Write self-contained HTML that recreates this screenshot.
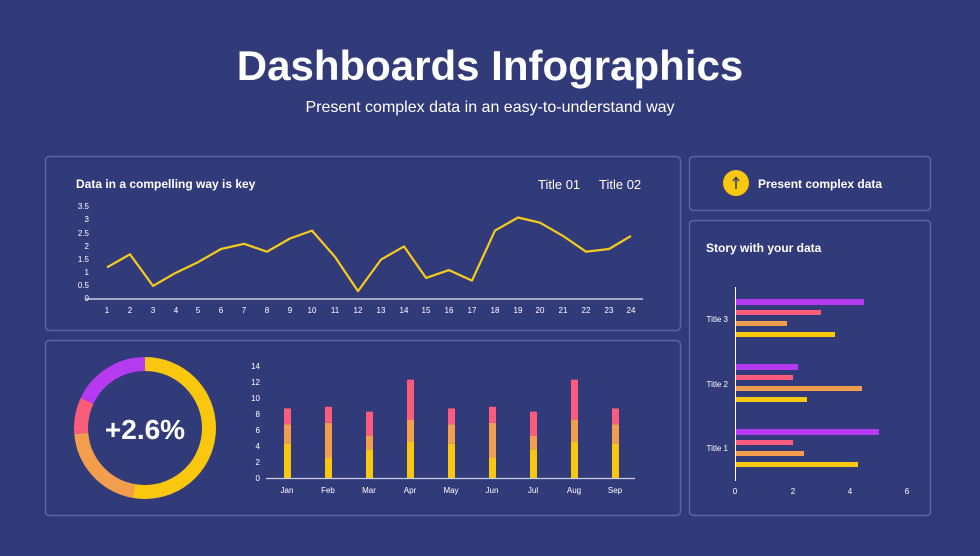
<!DOCTYPE html>
<html><head><meta charset="utf-8"><style>
body{margin:0;width:980px;height:551px;background:#323b79;overflow:hidden;font-family:"Liberation Sans",sans-serif;}
</style></head><body>
<svg width="980" height="551" xmlns="http://www.w3.org/2000/svg" font-family="Liberation Sans, sans-serif">
<rect width="980" height="551" fill="#323b79"/>
<text x="490" y="80" text-anchor="middle" font-size="42" font-weight="bold" fill="#fff">Dashboards Infographics</text>
<text x="490" y="112" text-anchor="middle" font-size="16" fill="#fff">Present complex data in an easy-to-understand way</text>
<g fill="none" stroke="#5b64a3" stroke-width="1.5">
<rect x="45.5" y="156.5" width="635" height="174" rx="4"/>
<rect x="45.5" y="340.5" width="635" height="175" rx="4"/>
<rect x="689.5" y="156.5" width="241" height="54" rx="4"/>
<rect x="689.5" y="220.5" width="241" height="295" rx="4"/>
</g>
<text x="76" y="188" font-size="12" font-weight="bold" fill="#fff">Data in a compelling way is key</text>
<text x="538" y="189" font-size="13" fill="#fff">Title 01</text>
<text x="599" y="189" font-size="13" fill="#fff">Title 02</text>
<g font-size="8" fill="#fff" text-anchor="end">
<text x="89" y="301">0</text><text x="89" y="288">0.5</text><text x="89" y="275">1</text><text x="89" y="262">1.5</text><text x="89" y="249">2</text><text x="89" y="236">2.5</text><text x="89" y="222">3</text><text x="89" y="209">3.5</text>
</g>
<line x1="86" y1="299" x2="643" y2="299" stroke="#c9cde6" stroke-width="1.5"/>
<g font-size="8" fill="#fff" text-anchor="middle">
<text x="107" y="313">1</text><text x="130" y="313">2</text><text x="153" y="313">3</text><text x="176" y="313">4</text><text x="198" y="313">5</text><text x="221" y="313">6</text><text x="244" y="313">7</text><text x="267" y="313">8</text><text x="290" y="313">9</text><text x="312" y="313">10</text><text x="335" y="313">11</text><text x="358" y="313">12</text><text x="381" y="313">13</text><text x="404" y="313">14</text><text x="426" y="313">15</text><text x="449" y="313">16</text><text x="472" y="313">17</text><text x="495" y="313">18</text><text x="518" y="313">19</text><text x="540" y="313">20</text><text x="563" y="313">21</text><text x="586" y="313">22</text><text x="609" y="313">23</text><text x="631" y="313">24</text>
</g>
<polyline fill="none" stroke="#f7cb1a" stroke-width="2.2" stroke-linejoin="round" points="107,267.4 130,254.3 153,285.9 176,272.7 198,262.2 221,249.0 244,243.8 267,251.7 290,238.5 312,230.6 335,256.9 358,291.1 381,259.6 404,246.4 426,277.9 449,270.1 472,280.6 495,230.6 518,217.5 540,222.7 563,235.9 586,251.7 609,249.0 631,235.9"/>
<g transform="rotate(-90 145 428)" fill="none" stroke-width="14">
<circle cx="145" cy="428" r="64" stroke="#f9c80e" stroke-dasharray="212.2 402.1"/>
<circle cx="145" cy="428" r="64" stroke="#f29e4c" stroke-dasharray="0 212.2 83.8 402.1"/>
<circle cx="145" cy="428" r="64" stroke="#fb5c7c" stroke-dasharray="0 296 33.5 402.1"/>
<circle cx="145" cy="428" r="64" stroke="#b53af0" stroke-dasharray="0 329.5 72.6 402.1"/>
</g>
<text x="145" y="439" text-anchor="middle" font-size="28" font-weight="bold" fill="#fff">+2.6%</text>
<g font-size="8" fill="#fff" text-anchor="end">
<text x="260" y="481">0</text><text x="260" y="465">2</text><text x="260" y="449">4</text><text x="260" y="433">6</text><text x="260" y="417">8</text><text x="260" y="401">10</text><text x="260" y="385">12</text><text x="260" y="369">14</text>
</g>
<line x1="266" y1="478.5" x2="635" y2="478.5" stroke="#c9cde6" stroke-width="1.2"/>
<g>
<g id="b">
<rect x="284" y="443.6" width="7" height="34.4" fill="#f9c80e"/><rect x="284" y="424.4" width="7" height="19.2" fill="#f29e4c"/><rect x="284" y="408.4" width="7" height="16" fill="#fb5c7c"/>
<rect x="325" y="458" width="7" height="20" fill="#f9c80e"/><rect x="325" y="422.8" width="7" height="35.2" fill="#f29e4c"/><rect x="325" y="406.8" width="7" height="16" fill="#fb5c7c"/>
<rect x="366" y="449.2" width="7" height="28.8" fill="#f9c80e"/><rect x="366" y="435.6" width="7" height="13.6" fill="#f29e4c"/><rect x="366" y="411.6" width="7" height="24" fill="#fb5c7c"/>
<rect x="407" y="442" width="7" height="36" fill="#f9c80e"/><rect x="407" y="419.6" width="7" height="22.4" fill="#f29e4c"/><rect x="407" y="379.6" width="7" height="40" fill="#fb5c7c"/>
</g>
<use href="#b" transform="translate(164 0)"/>
<rect x="612" y="443.6" width="7" height="34.4" fill="#f9c80e"/><rect x="612" y="424.4" width="7" height="19.2" fill="#f29e4c"/><rect x="612" y="408.4" width="7" height="16" fill="#fb5c7c"/>
</g>
<g font-size="8" fill="#fff" text-anchor="middle">
<text x="287" y="493">Jan</text><text x="328" y="493">Feb</text><text x="369" y="493">Mar</text><text x="410" y="493">Apr</text><text x="451" y="493">May</text><text x="492" y="493">Jun</text><text x="533" y="493">Jul</text><text x="574" y="493">Aug</text><text x="615" y="493">Sep</text>
</g>
<circle cx="736" cy="183" r="13" fill="#f9c80e"/>
<line x1="736" y1="189" x2="736" y2="178" stroke="#323b79" stroke-width="1.5"/>
<polyline points="733,181 736,177.5 739,181" fill="none" stroke="#323b79" stroke-width="1.5"/>
<text x="758" y="188" font-size="12" font-weight="bold" fill="#fff">Present complex data</text>
<text x="706" y="252" font-size="12" font-weight="bold" fill="#fff">Story with your data</text>
<line x1="735.5" y1="287" x2="735.5" y2="481" stroke="#fff" stroke-width="1"/>
<g>
<rect x="736" y="299" width="128" height="6" fill="#b53af0"/><rect x="736" y="310" width="85" height="5" fill="#fb5c7c"/><rect x="736" y="321" width="51" height="5" fill="#f29e4c"/><rect x="736" y="332" width="99" height="5" fill="#f9c80e"/>
<rect x="736" y="364" width="62" height="6" fill="#b53af0"/><rect x="736" y="375" width="57" height="5" fill="#fb5c7c"/><rect x="736" y="386" width="126" height="5" fill="#f29e4c"/><rect x="736" y="397" width="71" height="5" fill="#f9c80e"/>
<rect x="736" y="429" width="143" height="6" fill="#b53af0"/><rect x="736" y="440" width="57" height="5" fill="#fb5c7c"/><rect x="736" y="451" width="68" height="5" fill="#f29e4c"/><rect x="736" y="462" width="122" height="5" fill="#f9c80e"/>
</g>
<g font-size="8" fill="#fff" text-anchor="end">
<text x="728" y="322">Title 3</text><text x="728" y="387">Title 2</text><text x="728" y="451">Title 1</text>
</g>
<g font-size="8" fill="#fff" text-anchor="middle">
<text x="735" y="494">0</text><text x="793" y="494">2</text><text x="850" y="494">4</text><text x="907" y="494">6</text>
</g>
</svg>
</body></html>
